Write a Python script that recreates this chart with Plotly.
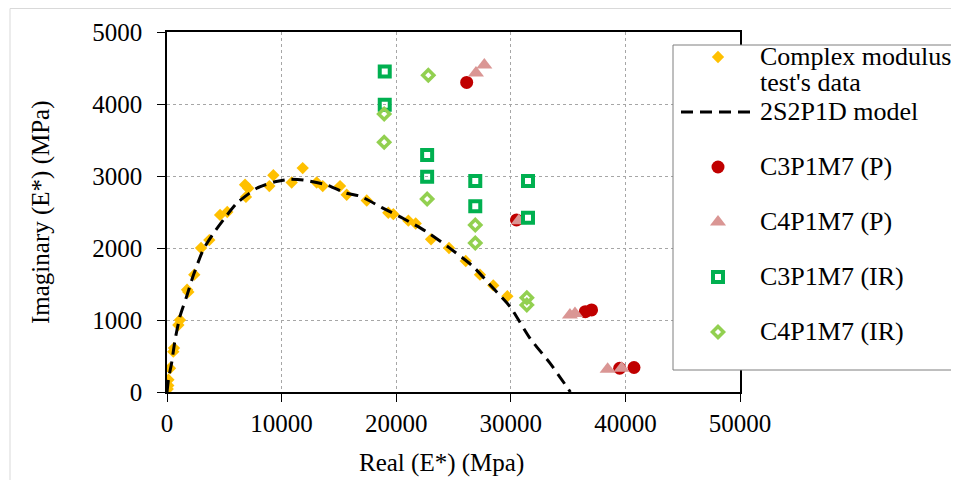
import plotly.graph_objects as go

# ---- data ----
complex_x = [60, 110, 120, 260, 550, 610, 990, 1130, 1750, 1860, 2380, 2970, 3690, 4630, 5260,
             6810, 7090, 6890, 8930, 9280, 10880, 11840, 13060, 13590, 15100, 15680, 17430,
             19310, 19750, 21060, 21700, 23040, 24610, 26070, 27310, 28470, 29700]
complex_y = [40, 90, 170, 330, 560, 610, 930, 1000, 1420, 1390, 1630, 2000, 2110, 2460, 2500,
             2880, 2830, 2710, 2860, 3010, 2910, 3110, 2910, 2860, 2860, 2740, 2660,
             2490, 2470, 2380, 2340, 2120, 2000, 1820, 1630, 1480, 1330]

model_x = [0, 150, 400, 700, 1130, 1720, 2300, 3170, 4040, 4920, 6080, 7830, 9420, 10730,
           11890, 13940, 15680, 16840, 18880, 20620, 22660, 24700, 26730, 28470, 29930,
           31680, 33420, 35200]
model_y = [0, 200, 400, 720, 1050, 1330, 1620, 1980, 2200, 2390, 2620, 2830, 2920, 2955,
           2945, 2875, 2760, 2720, 2550, 2410, 2225, 1995, 1740, 1440, 1185, 745, 400, 0]

c3p_x = [26150, 30500, 36500, 37050, 39500, 40750]
c3p_y = [4300, 2390, 1115, 1140, 330, 340]

c4p_x = [26960, 27690, 30700, 35160, 35600, 38450, 39670]
c4p_y = [4430, 4540, 2380, 1070, 1090, 315, 330]

c3ir_x = [19000, 19000, 22700, 22700, 26900, 26900, 31500, 31500]
c3ir_y = [4450, 3990, 3290, 2990, 2930, 2580, 2930, 2420]

c4ir_x = [22800, 18950, 18950, 22700, 26900, 26900, 31400, 31400]
c4ir_y = [4400, 3860, 3470, 2680, 2320, 2070, 1310, 1210]

x_ticks = [0, 10000, 20000, 30000, 40000, 50000]
y_ticks = [0, 1000, 2000, 3000, 4000, 5000]

FONT = "Liberation Serif, Times New Roman, serif"


def lg(line1, line2=" "):
    s = '<span style="font-size:26px">%s</span>' % line1
    if line2.strip():
        s += '<br><span style="font-size:26px">%s</span>' % line2
    else:
        s += "<br> "
    return s


fig = go.Figure()
fig.add_trace(go.Scatter(x=complex_x, y=complex_y, mode="markers", name=lg("Complex modulus", "test's data"),
                         marker=dict(symbol="diamond", size=9.5, color="#FFC000")))
fig.add_trace(go.Scatter(x=model_x, y=model_y, mode="lines", name=lg("2S2P1D model"),
                         line=dict(color="black", width=3, dash="12px,7px", shape="spline", smoothing=0.6)))
fig.add_trace(go.Scatter(x=c3p_x, y=c3p_y, mode="markers", name=lg("C3P1M7 (P)"),
                         marker=dict(symbol="circle", size=13, color="#C00000")))
fig.add_trace(go.Scatter(x=c4p_x, y=c4p_y, mode="markers", name=lg("C4P1M7 (P)"),
                         marker=dict(symbol="triangle-up", size=14, color="#DA9694")))
fig.add_trace(go.Scatter(x=c3ir_x, y=c3ir_y, mode="markers", name=lg("C3P1M7 (IR)"),
                         marker=dict(symbol="square-open", size=10, color="#00B050",
                                     line=dict(width=4, color="#00B050"))))
fig.add_trace(go.Scatter(x=c4ir_x, y=c4ir_y, mode="markers", name=lg("C4P1M7 (IR)"),
                         marker=dict(symbol="diamond-open", size=8.5, color="#92D050",
                                     line=dict(width=3.5, color="#92D050"))))

# page body adds an 8px offset, so the figure is 8px smaller than the window
OFF = 8
W, H = 959 - OFF, 480 - OFF
L, T = 167 - OFF, 32 - OFF
PW, PH = 573, 360
R, B = W - L - PW, H - T - PH


def px_x(p):  # window pixel -> paper
    return (p - OFF - L) / PW


def px_y(p):
    return (H - B - (p - OFF)) / PH


fig.update_layout(
    width=W, height=H,
    margin=dict(l=L, r=R, t=T, b=B, autoexpand=False),
    paper_bgcolor="white", plot_bgcolor="white",
    font=dict(family=FONT, size=25, color="black"),
    showlegend=True,
    legend=dict(x=px_x(676), y=px_y(37.5), xanchor="left", yanchor="top",
                bgcolor="rgba(0,0,0,0)", borderwidth=0, itemwidth=74,
                font=dict(family=FONT, size=20, color="black"), valign="top",
                traceorder="normal"),
    xaxis=dict(range=[0, 50000], tickvals=x_ticks, ticktext=[str(v) for v in x_ticks],
               showgrid=True, gridcolor="#A6A6A6", griddash="dot", gridwidth=1,
               showline=True, linecolor="black", linewidth=1.5, mirror=True,
               ticks="outside", ticklen=8, tickwidth=1.2, tickcolor="black",
               tickfont=dict(family=FONT, size=25, color="black"), zeroline=False),
    yaxis=dict(range=[0, 5000], tickvals=y_ticks, ticktext=[str(v) for v in y_ticks],
               showgrid=True, gridcolor="#A6A6A6", griddash="dot", gridwidth=1,
               showline=True, linecolor="black", linewidth=1.5, mirror=True,
               ticks="outside", ticklen=8, tickwidth=1.2, tickcolor="black",
               ticklabelstandoff=10,
               tickfont=dict(family=FONT, size=25, color="black"), zeroline=False),
    xaxis2=dict(range=[0, 50000], overlaying="x", anchor="y", side="bottom", tickvals=x_ticks,
                showticklabels=False, showgrid=False, showline=False, zeroline=False,
                ticks="inside", ticklen=8, tickwidth=1.2, tickcolor="black"),
    yaxis2=dict(range=[0, 5000], overlaying="y", anchor="x", side="left", tickvals=y_ticks,
                showticklabels=False, showgrid=False, showline=False, zeroline=False,
                ticks="inside", ticklen=8, tickwidth=1.2, tickcolor="black"),
    shapes=[
        dict(type="rect", xref="paper", yref="paper", x0=px_x(10), x1=px_x(1200), y0=px_y(700), y1=px_y(8.5),
             line=dict(color="#D9D9D9", width=1), fillcolor="rgba(0,0,0,0)", layer="below"),
        dict(type="rect", xref="paper", yref="paper", x0=px_x(673), x1=px_x(1000), y0=px_y(370), y1=px_y(45),
             line=dict(color="#7F7F7F", width=1), fillcolor="white", layer="above"),
    ],
    annotations=[
        dict(text="Real (E*) (Mpa)", xref="paper", yref="paper", x=px_x(441), y=px_y(463),
             xanchor="center", yanchor="middle", showarrow=False,
             font=dict(family=FONT, size=25, color="black")),
        dict(text="Imaginary (E*) (MPa)", xref="paper", yref="paper", x=px_x(41), y=px_y(212),
             xanchor="center", yanchor="middle", showarrow=False, textangle=-90,
             font=dict(family=FONT, size=25, color="black")),
    ],
)

fig.write_html("out.html")
